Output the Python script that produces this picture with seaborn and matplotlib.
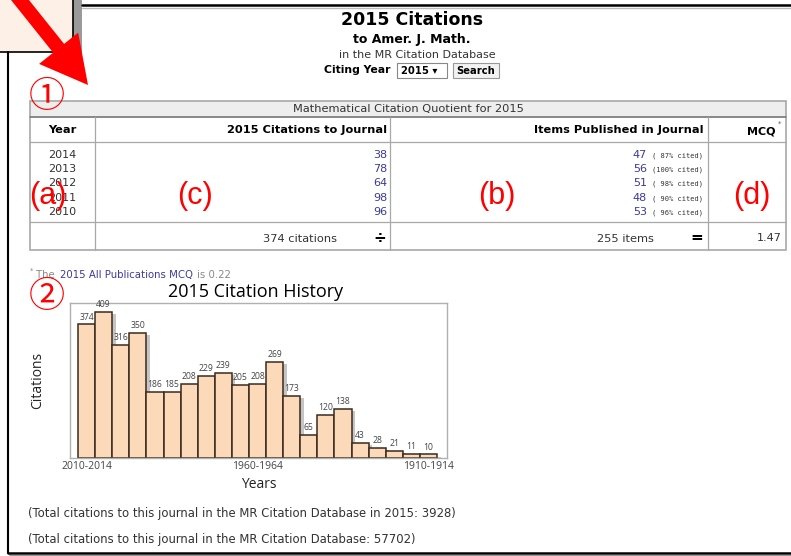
import matplotlib
matplotlib.use("Agg")
import matplotlib.pyplot as plt
import matplotlib.patches as mpatches
import matplotlib.patheffects as pe
import pandas as pd
import seaborn as sns

# citation history, 5-year groups (newest first)
periods = ["2010-2014", "2005-2009", "2000-2004", "1995-1999", "1990-1994",
           "1985-1989", "1980-1984", "1975-1979", "1970-1974", "1965-1969",
           "1960-1964", "1955-1959", "1950-1954", "1945-1949", "1940-1944",
           "1935-1939", "1930-1934", "1925-1929", "1920-1924", "1915-1919",
           "1910-1914"]
citations = [374, 409, 316, 350, 186, 185, 208, 229, 239, 205, 208,
             269, 173, 65, 120, 138, 43, 28, 21, 11, 10]
shown_ticks = ["2010-2014", "1960-1964", "1910-1914"]

# MCQ table
table_years = [2014, 2013, 2012, 2011, 2010]
table_cites = [38, 78, 64, 98, 96]
table_items = [47, 56, 51, 48, 53]
table_pct = [87, 100, 98, 90, 96]
total_cites = 374
total_items = 255
mcq = 1.47
all_pub_mcq = 0.22
total_2015 = 3928
total_all = 57702

sns.set_theme(style="white")
plt.rcParams['font.family'] = ['DejaVu Sans']

W, H = 791, 556
fig = plt.figure(figsize=(W / 100, H / 100), dpi=100)
fig.patch.set_facecolor("white")

# background axes in pixel coordinates for the page layout
bg = fig.add_axes([0, 0, 1, 1])
bg.set_xlim(0, W)
bg.set_ylim(H, 0)
bg.axis("off")

blue = "#3a3a99"
grid = "#a8a8a8"

# page frame
bg.add_patch(mpatches.Rectangle((73, -2), 9, 64, facecolor="#9a9a9a", edgecolor="none"))
bg.add_patch(mpatches.Rectangle((-2, -2), 75, 54, facecolor="#fdf0e6", edgecolor="black", lw=1.2))
bg.plot([82, W], [5, 5], color="black", lw=1.8)
bg.plot([82, W], [7.5, 7.5], color="#bbbbbb", lw=1)
bg.plot([8, 8], [52, 553], color="black", lw=1.5)
bg.plot([8, W], [553, 553], color="black", lw=1.8)
bg.plot([10, W], [555.5, 555.5], color="#999999", lw=1.5)

# page heading
bg.text(412, 20, "2015 Citations", ha="center", va="center", fontsize=12.5, fontweight="bold", color="black")
bg.text(412, 40, "to Amer. J. Math.", ha="center", va="center", fontsize=9, fontweight="bold", color="black")
bg.text(417, 55, "in the MR Citation Database", ha="center", va="center", fontsize=8, color="#333333")
bg.text(391, 70, "Citing Year", ha="right", va="center", fontsize=7.8, fontweight="bold", color="black")
bg.add_patch(mpatches.Rectangle((397, 63), 50, 15, facecolor="white", edgecolor="#888888", lw=0.8))
bg.text(401, 70.5, "2015 \u25be", ha="left", va="center", fontsize=7.2, fontweight="bold", color="black")
bg.add_patch(mpatches.Rectangle((453, 63), 46, 15, facecolor="#f2f2f2", edgecolor="#999999", lw=0.8))
bg.text(476, 70.5, "Search", ha="center", va="center", fontsize=7.2, fontweight="bold", color="black")

# MCQ table
bg.add_patch(mpatches.Rectangle((30, 101), 756, 16, facecolor="#eeeeee", edgecolor="none"))
bg.add_patch(mpatches.Rectangle((30, 101), 756, 149, facecolor="none", edgecolor=grid, lw=1.2))
bg.plot([30, 786], [117, 117], color="#888888", lw=1.4)
for yy in [142, 222]:
    bg.plot([30, 786], [yy, yy], color=grid, lw=0.9)
for xx in [95, 390, 708]:
    bg.plot([xx, xx], [117, 250], color=grid, lw=0.9)

bg.text(408, 109, "Mathematical Citation Quotient for 2015", ha="center", va="center", fontsize=8.2, color="#333333")
bg.text(62, 130, "Year", ha="center", va="center", fontsize=8.2, fontweight="bold", color="black")
bg.text(387, 130, "2015 Citations to Journal", ha="right", va="center", fontsize=8.2, fontweight="bold", color="black")
bg.text(704, 130, "Items Published in Journal", ha="right", va="center", fontsize=8.2, fontweight="bold", color="black")
bg.text(776, 131, "MCQ", ha="right", va="center", fontsize=8, fontweight="bold", color="black")
bg.text(778, 124, "*", ha="left", va="center", fontsize=5, color="#555555")

row_y = [155, 169, 183, 198, 212]
for yy, yr, c, it, pc in zip(row_y, table_years, table_cites, table_items, table_pct):
    bg.text(62, yy, str(yr), ha="center", va="center", fontsize=8, color="#333333")
    bg.text(387, yy, str(c), ha="right", va="center", fontsize=8, color=blue)
    bg.text(647, yy, str(it), ha="right", va="center", fontsize=8, color=blue)
    bg.text(703, yy + 0.5, "(%4s cited)" % (str(pc) + "%"), ha="right", va="center",
            fontsize=5, color="#333333", family="DejaVu Sans Mono")

bg.text(337, 239, f"{total_cites} citations", ha="right", va="center", fontsize=8.2, color="#333333")
bg.text(380, 238, "\u00f7", ha="center", va="center", fontsize=11, fontweight="bold", color="black")
bg.text(654, 239, f"{total_items} items", ha="right", va="center", fontsize=8.2, color="#333333")
bg.text(697, 238, "=", ha="center", va="center", fontsize=11, fontweight="bold", color="black")
bg.text(782, 238, f"{mcq:.2f}", ha="right", va="center", fontsize=8, color="#333333")

# footnote
bg.text(30, 271, "*", ha="left", va="center", fontsize=5, color="#888888")
bg.text(36, 275, "The", ha="left", va="center", fontsize=7.3, color="#888888")
bg.text(60, 275, "2015 All Publications MCQ", ha="left", va="center", fontsize=7.3, color=blue)
bg.text(197, 275, f"is {all_pub_mcq}", ha="left", va="center", fontsize=7.3, color="#888888")

# bottom totals
bg.text(28, 513, f"(Total citations to this journal in the MR Citation Database in 2015: {total_2015})",
        ha="left", va="center", fontsize=8.4, color="#333333")
bg.text(28, 540, f"(Total citations to this journal in the MR Citation Database: {total_all})",
        ha="left", va="center", fontsize=8.4, color="#333333")

# citation history chart
ax = fig.add_axes([70 / W, 1 - 458 / H, 377 / W, 155 / H])
df = pd.DataFrame({"period": periods, "citations": citations})
sns.barplot(data=df, x="period", y="citations", color="#fcd9b8", saturation=1,
            edgecolor="#3a2a1e", linewidth=1.1, width=1.0, ax=ax)
for bar in ax.patches:
    bar.set_path_effects([pe.SimplePatchShadow(offset=(2.5, -1.5), shadow_rgbFace="0.55", alpha=0.5),
                          pe.Normal()])
ax.bar_label(ax.containers[0], fontsize=6.2, color="#444444", padding=2, family="Open Sans")
ax.set_xlim(-0.97, 21.08)
ax.set_ylim(0, 434)
ax.set_yticks([])
ax.set_xticks([periods.index(p) for p in shown_ticks], shown_ticks)
ax.tick_params(axis="x", length=0, pad=2, labelsize=7.5, labelcolor="#444444")
for lab in ax.get_xticklabels():
    lab.set_family("Open Sans")
ax.set_xlabel("Years", fontsize=10, family="Open Sans", color="#222222", labelpad=4)
ax.set_ylabel("Citations", fontsize=10, family="Open Sans", color="#222222", labelpad=18)
for s in ax.spines.values():
    s.set_color("#b0b0b0")
    s.set_linewidth(1)
ax.set_facecolor("white")
bg.text(256, 292, "2015 Citation History", ha="center", va="center", fontsize=13, family="Open Sans", color="black")

# annotations in red
bg.add_patch(mpatches.FancyArrow(8, -15, 80, 100, width=14, head_width=50, head_length=47,
                                 length_includes_head=True, color="red", lw=0))
red_font = ["Liberation Sans", "DejaVu Sans"]
for lbl, xx in [("(a)", 48), ("(c)", 195), ("(b)", 497), ("(d)", 752)]:
    bg.text(xx, 196, lbl, ha="center", va="center", fontsize=22, color="red", family=red_font)
circ_font = ["Noto Sans CJK JP", "DejaVu Sans"]
bg.text(47, 97, "\u2460", ha="center", va="center", fontsize=26, color="red", family=circ_font)
bg.text(47, 297, "\u2461", ha="center", va="center", fontsize=26, color="red", family=circ_font)

fig.savefig("out.png", dpi=100)
